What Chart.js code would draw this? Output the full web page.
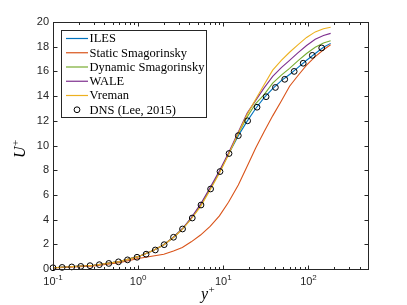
<!DOCTYPE html>
<html>
<head>
<meta charset="utf-8">
<script src="https://cdn.jsdelivr.net/npm/chart.js@4.4.1/dist/chart.umd.min.js"></script>
<style>
  html, body { margin: 0; padding: 0; background: #fff; }
  #c { display: block; }
</style>
</head>
<body>
<canvas id="c" width="407" height="305" style="width:407px;height:305px"></canvas>
<script>
// y+ positions where the LES profiles are stored
const LES_YPLUS = [0.1, 0.3, 0.6, 1, 1.5, 2, 2.6, 3.3, 4.2, 5.4, 7, 9, 11.5, 15, 19, 24, 30, 38, 48, 60, 75, 95, 120, 150, 182];

const ILES      = [0.1, 0.3, 0.6, 1.0, 1.5, 1.97, 2.57, 3.24, 4.1, 5.15, 6.5, 7.85, 9.3, 10.8, 11.95, 13.0, 13.85, 14.6, 15.25, 15.75, 16.3, 16.9, 17.45, 17.95, 18.27];
const STATIC    = [0.08, 0.25, 0.5, 0.85, 1.05, 1.2, 1.45, 1.75, 2.2, 2.75, 3.45, 4.3, 5.4, 6.8, 8.3, 9.8, 11.1, 12.4, 13.6, 14.8, 15.65, 16.5, 17.2, 17.75, 18.16];
const DYNAMIC   = [0.1, 0.3, 0.6, 1.0, 1.5, 1.97, 2.57, 3.24, 4.1, 5.15, 6.5, 7.85, 9.3, 10.95, 12.3, 13.4, 14.1, 15.05, 15.7, 16.25, 16.85, 17.45, 17.95, 18.3, 18.49];
const WALE      = [0.1, 0.3, 0.6, 1.0, 1.5, 1.97, 2.57, 3.26, 4.15, 5.25, 6.6, 7.95, 9.4, 11.1, 12.6, 13.65, 14.65, 15.6, 16.3, 16.9, 17.5, 18.1, 18.6, 18.9, 19.08];
const VREMAN    = [0.1, 0.3, 0.6, 1.0, 1.5, 1.96, 2.55, 3.2, 4.05, 5.05, 6.4, 7.75, 9.25, 11.0, 12.5, 13.75, 14.9, 16.1, 16.9, 17.55, 18.15, 18.75, 19.2, 19.45, 19.57];

// DNS reference (Lee & Moser 2015)
const DNS_YPLUS = [0.1, 0.128, 0.166, 0.212, 0.272, 0.35, 0.452, 0.587, 0.75, 0.97, 1.24, 1.59, 2.02, 2.6, 3.32, 4.32, 5.47, 7.09, 9.14, 11.67, 15.0, 19.3, 24.9, 31.8, 40.9, 52.6, 67.9, 86.7, 111, 143];
const DNS_U     = [0.1, 0.128, 0.166, 0.21, 0.27, 0.35, 0.45, 0.58, 0.74, 0.95, 1.2, 1.54, 1.97, 2.57, 3.24, 4.13, 5.18, 6.48, 7.89, 9.35, 10.8, 12.0, 13.1, 13.95, 14.7, 15.36, 16.0, 16.66, 17.3, 17.9];

const SERIES_NAMES = ['ILES', 'Static Smagorinsky', 'Dynamic Smagorinsky', 'WALE', 'Vreman', 'DNS (Lee, 2015)'];

// axis ticks
const X_TICKS = [0.1, 1, 10, 100];
const X_TICK_EXP = ['-1', '0', '1', '2'];
const X_MINOR = [0.2, 0.3, 0.4, 0.5, 0.6, 0.7, 0.8, 0.9, 2, 3, 4, 5, 6, 7, 8, 9, 20, 30, 40, 50, 60, 70, 80, 90, 200, 300, 400];
const Y_TICKS = [0, 2, 4, 6, 8, 10, 12, 14, 16, 18, 20];

const AXIS_COLOR = '#262626';
const TICK_FONT = '11px "Liberation Sans", Arial, sans-serif';

function pts(xs, ys) { return xs.map((x, i) => ({ x: x, y: ys[i] })); }

function lesLine(label, values, color, order) {
  return {
    label: label,
    data: pts(LES_YPLUS, values),
    showLine: true,
    borderColor: color,
    backgroundColor: color,
    borderWidth: 1.1,
    pointRadius: 0,
    tension: 0,
    order: order
  };
}

const datasets = [
  lesLine(SERIES_NAMES[0], ILES, '#0072BD', 5),
  lesLine(SERIES_NAMES[1], STATIC, '#D95319', 4),
  lesLine(SERIES_NAMES[2], DYNAMIC, '#77AC30', 3),
  lesLine(SERIES_NAMES[3], WALE, '#7E2F8E', 2),
  lesLine(SERIES_NAMES[4], VREMAN, '#EDB120', 1),
  {
    label: SERIES_NAMES[5],
    data: pts(DNS_YPLUS, DNS_U),
    showLine: false,
    pointRadius: 2.9,
    pointStyle: 'circle',
    pointBorderColor: '#000',
    pointBackgroundColor: 'rgba(0,0,0,0)',
    pointBorderWidth: 1,
    clip: false,
    order: 0
  }
];

// box, inward ticks, tick labels, axis titles and legend, matlab style
const framePlugin = {
  id: 'frame',
  afterDraw(chart) {
    const ctx = chart.ctx;
    const a = chart.chartArea;
    const xs = chart.scales.x, ys = chart.scales.y;
    const L = Math.round(a.left) + 0.5, R = Math.round(a.right) + 0.5;
    const T = Math.round(a.top) + 0.5, B = Math.round(a.bottom) + 0.5;

    ctx.save();
    ctx.strokeStyle = AXIS_COLOR;
    ctx.lineWidth = 1;
    ctx.strokeRect(L, T, R - L, B - T);

    ctx.beginPath();
    const xtick = (v, len) => {
      const px = Math.round(xs.getPixelForValue(v)) + 0.5;
      ctx.moveTo(px, B); ctx.lineTo(px, B - len);
      ctx.moveTo(px, T); ctx.lineTo(px, T + len);
    };
    X_TICKS.forEach(v => xtick(v, 4));
    X_MINOR.forEach(v => xtick(v, 2.5));
    Y_TICKS.forEach(v => {
      const py = Math.round(ys.getPixelForValue(v)) + 0.5;
      ctx.moveTo(L, py); ctx.lineTo(L + 4, py);
      ctx.moveTo(R, py); ctx.lineTo(R - 4, py);
    });
    ctx.stroke();

    // x tick labels 10^n
    ctx.fillStyle = AXIS_COLOR;
    ctx.textBaseline = 'alphabetic';
    X_TICKS.forEach((v, i) => {
      const px = xs.getPixelForValue(v);
      ctx.font = TICK_FONT;
      const wb = ctx.measureText('10').width;
      ctx.font = '8px "Liberation Sans", Arial, sans-serif';
      const we = ctx.measureText(X_TICK_EXP[i]).width;
      const x0 = px - (wb + we) / 2;
      ctx.font = TICK_FONT;
      ctx.textAlign = 'left';
      ctx.fillText('10', x0, 285);
      ctx.font = '8px "Liberation Sans", Arial, sans-serif';
      ctx.fillText(X_TICK_EXP[i], x0 + wb, 280);
    });

    // axis titles
    ctx.fillStyle = '#000';
    ctx.font = 'italic 16px "Liberation Serif", "DejaVu Serif", serif';
    ctx.textAlign = 'left';
    const wy = ctx.measureText('y').width;
    ctx.fillText('y', 201, 299);
    ctx.font = '11px "Liberation Serif", "DejaVu Serif", serif';
    ctx.fillText('+', 201 + wy + 0.5, 293);

    ctx.save();
    ctx.translate(25, 158);
    ctx.rotate(-Math.PI / 2);
    ctx.font = 'italic 16px "Liberation Serif", "DejaVu Serif", serif';
    const wu = ctx.measureText('U').width;
    ctx.fillText('U', 0, 0);
    ctx.font = '11px "Liberation Serif", "DejaVu Serif", serif';
    ctx.fillText('+', wu + 0.5, -6);
    ctx.restore();

    // legend
    const bx = 61.5, by = 30.5, bw = 145, bh = 87;
    ctx.fillStyle = '#fff';
    ctx.fillRect(bx, by, bw, bh);
    ctx.strokeStyle = AXIS_COLOR;
    ctx.strokeRect(bx, by, bw, bh);
    ctx.font = '12.5px "Liberation Serif", "DejaVu Serif", serif';
    ctx.textBaseline = 'middle';
    chart.data.datasets.forEach((ds, i) => {
      const cy = 38.5 + i * 14.25;
      if (ds.showLine) {
        ctx.strokeStyle = ds.borderColor;
        ctx.lineWidth = 1.2;
        ctx.beginPath();
        ctx.moveTo(66, cy); ctx.lineTo(88, cy);
        ctx.stroke();
      } else {
        ctx.strokeStyle = ds.pointBorderColor;
        ctx.lineWidth = 1;
        ctx.beginPath();
        ctx.arc(77, cy, ds.pointRadius, 0, Math.PI * 2);
        ctx.stroke();
      }
      ctx.fillStyle = '#000';
      ctx.fillText(ds.label, 89.5, cy + 0.5);
    });
    ctx.restore();
  }
};

new Chart(document.getElementById('c').getContext('2d'), {
  type: 'scatter',
  data: { datasets: datasets },
  options: {
    responsive: false,
    animation: false,
    layout: { padding: { top: 22, right: 39, left: 0, bottom: 0 } },
    plugins: { legend: { display: false }, tooltip: { enabled: false } },
    scales: {
      x: {
        type: 'logarithmic',
        min: 0.1,
        max: 500,
        afterBuildTicks: s => { s.ticks = X_TICKS.map(v => ({ value: v })); },
        afterFit: s => { s.height = 36; },
        ticks: { display: false },
        grid: { display: false, drawTicks: false },
        border: { display: false }
      },
      y: {
        min: 0,
        max: 20,
        afterBuildTicks: s => { s.ticks = Y_TICKS.map(v => ({ value: v })); },
        afterFit: s => { s.width = 53; },
        ticks: { padding: 4, color: AXIS_COLOR, font: { family: '"Liberation Sans", Arial, sans-serif', size: 11 } },
        grid: { display: false, drawTicks: false },
        border: { display: false }
      }
    }
  },
  plugins: [framePlugin]
});
</script>
</body>
</html>
